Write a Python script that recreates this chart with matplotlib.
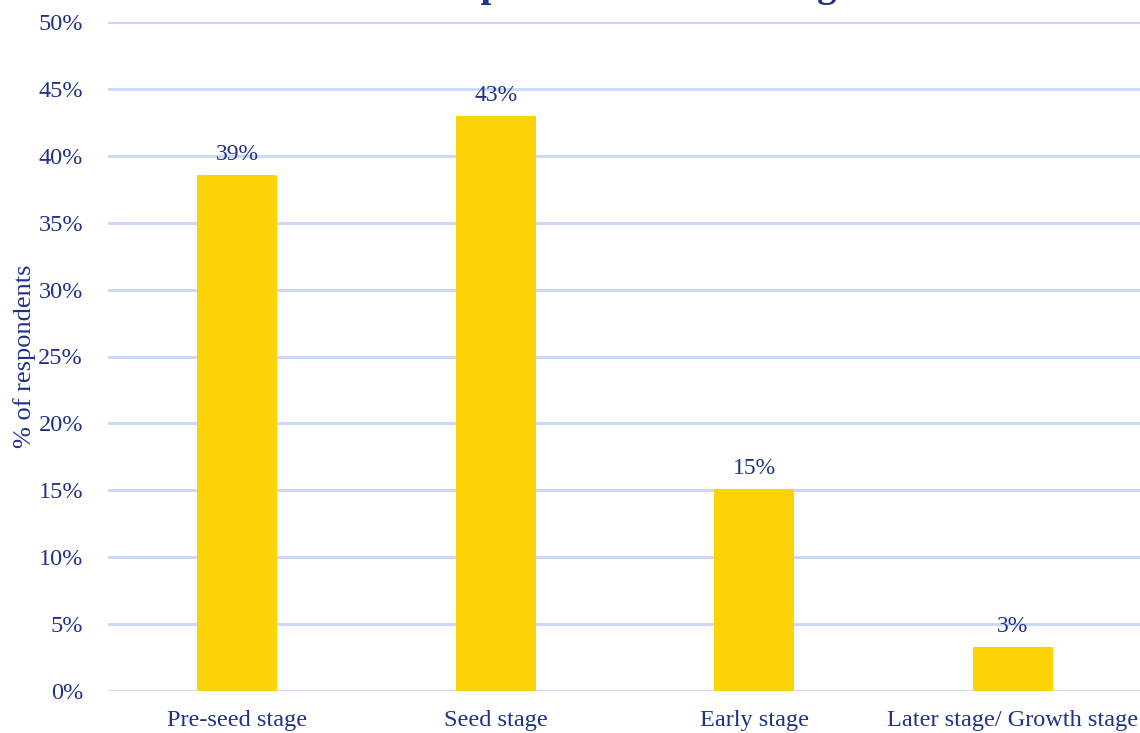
import matplotlib
matplotlib.use("Agg")
import matplotlib.pyplot as plt
from matplotlib.ticker import FuncFormatter

categories = ["Pre-seed stage", "Seed stage", "Early stage", "Later stage/ Growth stage"]
values = [38.6, 43.0, 15.1, 3.3]
title = "Share of respondents in each stage"

navy = "#1F3189"
gold = "#FCD307"
grid = "#C9D5F9"

plt.rcParams['font.family'] = ['Liberation Serif', 'DejaVu Serif']

fig = plt.figure(figsize=(11.4, 7.33), dpi=100)
ax = fig.add_axes([108/1140, 1-691/733, (1142-108)/1140, (691-22)/733])

x = list(range(len(categories)))
bars = ax.bar(x, values, width=0.31, color=gold, zorder=3)
for xi, v in zip(x, values):
    ax.annotate(f"{v:.0f}%", (xi, v), xytext=(0, 7), textcoords="offset points",
                ha="center", va="bottom", color=navy, fontsize=17)

ax.set_xlim(-0.5, len(categories) - 0.5)
ax.set_ylim(0, 50)
ax.set_yticks(range(0, 51, 5))
ax.yaxis.set_major_formatter(FuncFormatter(lambda v, p: f"{v:.0f}%"))
ax.set_xticks(x)
ax.set_xticklabels(categories)
ax.tick_params(axis='both', length=0, colors=navy, labelsize=17.5)
ax.tick_params(axis='y', pad=18)
ax.tick_params(axis='x', pad=14)
for s in ax.spines.values():
    s.set_visible(False)
ax.yaxis.grid(True, color=grid, linewidth=2, zorder=0)
ax.set_axisbelow(True)
ax.set_ylabel("% of respondents", color=navy, fontsize=19)
ax.yaxis.set_label_coords(-72/1034, 0.5)

fig.text(0.499, 1.005, title, ha="center", va="baseline", color=navy,
         fontsize=28, fontweight="bold")

fig.savefig("out.png", dpi=100)
